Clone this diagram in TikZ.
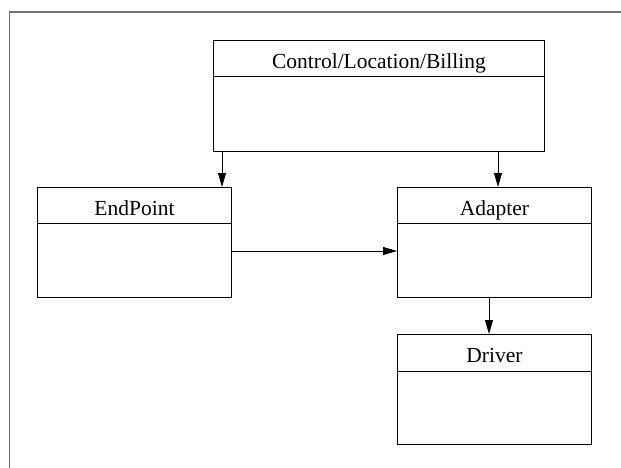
\documentclass[tikz,border=0pt]{standalone}
\usepackage{fontspec}
\setmainfont{Liberation Serif}
\usetikzlibrary{arrows.meta}
\begin{document}
\begin{tikzpicture}[x=1pt,y=-1pt,
  box/.style={draw=black, line width=0.9pt, inner sep=0pt, anchor=north west, rectangle},
  hdr/.style={box, minimum height=36pt, text height=22pt, text depth=2pt, font=\fontsize{21.5}{24}\selectfont},
  bdy/.style={box},
  arr/.style={draw=black, line width=0.9pt, -{Triangle[length=14pt,width=8pt]}},
  frame/.style={draw=black!55, line width=1.5pt}]
\useasboundingbox (0,0) rectangle (621,468);
\draw[frame] (9.5,468) -- (9.5,12) -- (621,12);
% Control/Location/Billing
\node[hdr, minimum width=331pt] (ctrlh) at (213,40) {Control/Location/Billing};
\node[bdy, minimum width=331pt, minimum height=75pt] (ctrlb) at (213,76) {};
% EndPoint
\node[hdr, minimum width=194pt] (endh) at (37,187) {EndPoint};
\node[bdy, minimum width=194pt, minimum height=74pt] (endb) at (37,223) {};
% Adapter
\node[hdr, minimum width=194pt] (adh) at (397,187) {Adapter};
\node[bdy, minimum width=194pt, minimum height=74pt] (adb) at (397,223) {};
% Driver
\node[hdr, minimum width=194pt, minimum height=37pt] (drh) at (397,334) {Driver};
\node[bdy, minimum width=194pt, minimum height=73pt] (drb) at (397,371) {};
% connectors
\draw[arr] ([xshift=9pt]ctrlb.south west) -- ([xshift=185pt]endh.north west);
\draw[arr] ([xshift=285pt]ctrlb.south west) -- ([xshift=101pt]adh.north west);
\draw[arr] ([yshift=-28pt]endb.north east) -- ([yshift=-28pt]adb.north west);
\draw[arr] ([xshift=92pt]adb.south west) -- ([xshift=92pt]drh.north west);
\end{tikzpicture}
\end{document}
